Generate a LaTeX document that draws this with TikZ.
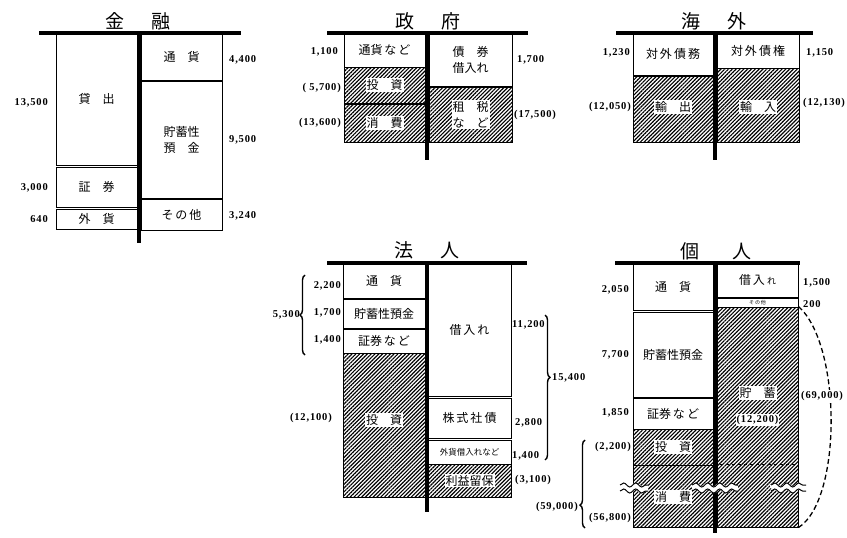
\documentclass[tikz,border=0pt]{standalone}
\usepackage{fontspec}
\newfontfamily\jp{Noto Sans CJK JP}
\newfontfamily\numfont[LetterSpace=8]{Liberation Serif}
\usepackage{tikz}
\usetikzlibrary{
	arrows.meta,
	positioning,
	calc,
	patterns.meta,
	decorations.pathreplacing,
	decorations.pathmorphing
}

\begin{document}
\begin{tikzpicture}[x=1pt,y=-1pt,
	cell/.style={draw,line width=1pt,inner sep=0pt,align=center,
		font=\jp\fontsize{12}{16}\selectfont},
	hatch/.style={cell,pattern={Lines[angle=45,distance=2.7pt,line width=1.15pt]}},
	tag/.style={fill=white,inner sep=1pt,align=center,
		font=\jp\fontsize{12}{16}\selectfont},
	num/.style={inner sep=0pt,font=\numfont\bfseries\fontsize{10.5}{12}\selectfont},
	head/.style={font=\jp\fontsize{19}{22}\selectfont},
	topbar/.style={line width=4pt},
	spine/.style={line width=3.5pt},
	brc/.style={decorate,line width=1.4pt,decoration={brace,amplitude=5pt,#1}},
	brc/.default={aspect=0.5},
	wave/.style={decorate,decoration={snake,segment length=12pt,amplitude=2pt}}
	]
	\useasboundingbox (0,0) rectangle (847,538);

	% --- 金融 ---
	\node[head] (fin-title) at (138,21) {金\hspace{28pt}融};
	\node[cell,minimum width=81pt,minimum height=132pt] (fin-loan) at (96.5,99) {貸　出};
	\node[cell,minimum width=81pt,minimum height=40pt] (fin-sec) at (96.5,187) {証　券};
	\node[cell,minimum width=81pt,minimum height=20pt] (fin-fx) at (96.5,219) {外　貨};
	\node[cell,minimum width=81pt,minimum height=47pt] (fin-cash) at (181.5,56.5) {通　貨};
	\node[cell,minimum width=81pt,minimum height=117pt] (fin-dep) at (181.5,139.5) {貯蓄性\\預　金};
	\node[cell,minimum width=81pt,minimum height=31pt] (fin-etc) at (181.5,214.5) {そ\,の\,他};
	\coordinate (fin-l) at (39,33);
	\coordinate (fin-r) at (241,33);
	\coordinate (fin-t) at (139,33);
	\coordinate (fin-b) at (139,243);
	\draw[spine,line width=4.5pt] (fin-t) -- (fin-b);
	\draw[topbar] (fin-l) -- (fin-r);
	\node[num,anchor=east] (fin-v1) at (48,103) {13,500};
	\node[num,anchor=east] (fin-v2) at (48,188) {3,000};
	\node[num,anchor=east] (fin-v3) at (48,219) {640};
	\node[num,anchor=west] (fin-v4) at (229,60) {4,400};
	\node[num,anchor=west] (fin-v5) at (229,140) {9,500};
	\node[num,anchor=west] (fin-v6) at (229,216) {3,240};

	% --- 政府 ---
	\node[head] (gov-title) at (428,21) {政\hspace{28pt}府};
	\node[cell,minimum width=81pt,minimum height=34pt] (gov-cash) at (384.5,50) {通貨\,な\,ど};
	\node[hatch,minimum width=81pt,minimum height=36pt] (gov-inv) at (384.5,85) {};
	\node[hatch,minimum width=81pt,minimum height=38pt] (gov-cons) at (384.5,123) {};
	\node[cell,minimum width=83pt,minimum height=53pt] (gov-bond) at (470.5,59.5) {債　券\\借入れ};
	\node[hatch,minimum width=83pt,minimum height=55pt] (gov-tax) at (470.5,114.5) {};
	\node[tag] (gov-inv-t) at (gov-inv) {投　資};
	\node[tag] (gov-cons-t) at (gov-cons) {消　費};
	\node[tag] (gov-tax-t) at (gov-tax) {租　税\\な　ど};
	\coordinate (gov-l) at (327,33);
	\coordinate (gov-r) at (528,33);
	\coordinate (gov-t) at (427,33);
	\coordinate (gov-b) at (427,160);
	\draw[spine] (gov-t) -- (gov-b);
	\draw[topbar] (gov-l) -- (gov-r);
	\node[num,anchor=east] (gov-v1) at (338,52) {1,100};
	\node[num,anchor=east] (gov-v2) at (341,88) {( 5,700)};
	\node[num,anchor=east] (gov-v3) at (341,123) {(13,600)};
	\node[num,anchor=west] (gov-v4) at (517,60) {1,700};
	\node[num,anchor=west] (gov-v5) at (514,115) {(17,500)};

	% --- 海外 ---
	\node[head] (ext-title) at (714,21) {海\hspace{28pt}外};
	\node[cell,minimum width=80pt,minimum height=42pt] (ext-debt) at (673,54) {対\,外\,債\,務};
	\node[hatch,minimum width=80pt,minimum height=66pt] (ext-exp) at (673,109) {};
	\node[cell,minimum width=82pt,minimum height=35pt] (ext-claim) at (758,50.5) {対\,外\,債\,権};
	\node[hatch,minimum width=82pt,minimum height=74pt] (ext-imp) at (758,105) {};
	\node[tag] (ext-exp-t) at (673,107) {輸　出};
	\node[tag] (ext-imp-t) at (758,107) {輸　入};
	\coordinate (ext-l) at (616,33);
	\coordinate (ext-r) at (813,33);
	\coordinate (ext-t) at (715,33);
	\coordinate (ext-b) at (715,160);
	\draw[spine] (ext-t) -- (ext-b);
	\draw[topbar] (ext-l) -- (ext-r);
	\node[num,anchor=east] (ext-v1) at (630,53) {1,230};
	\node[num,anchor=east] (ext-v2) at (631,107) {(12,050)};
	\node[num,anchor=west] (ext-v3) at (806,53) {1,150};
	\node[num,anchor=west] (ext-v4) at (803,103) {(12,130)};

	% --- 法人 ---
	\node[head] (corp-title) at (427,250) {法\hspace{28pt}人};
	\node[cell,minimum width=82pt,minimum height=35pt] (corp-cash) at (384,280.5) {通　貨};
	\node[cell,minimum width=82pt,minimum height=29pt] (corp-dep) at (384,313.5) {貯蓄性預金};
	\node[cell,minimum width=82pt,minimum height=24pt] (corp-sec) at (384,341) {証券\,な\,ど};
	\node[hatch,minimum width=82pt,minimum height=144pt] (corp-inv) at (384,425) {};
	\node[cell,minimum width=83pt,minimum height=133pt] (corp-loan) at (469.5,329.5) {借\,入\,れ};
	\node[cell,minimum width=83pt,minimum height=40pt] (corp-bond) at (469.5,418) {株\,式\,社\,債};
	\node[cell,minimum width=83pt,minimum height=24pt] (corp-fx) at (469.5,452)
		{\fontsize{8.5}{10}\selectfont 外貨借入れなど};
	\node[hatch,minimum width=83pt,minimum height=33pt] (corp-ret) at (469.5,480.5) {};
	\node[tag] (corp-inv-t) at (384,420) {投　資};
	\node[tag] (corp-ret-t) at (corp-ret) {利益留保};
	\coordinate (corp-l) at (327,263);
	\coordinate (corp-r) at (527,263);
	\coordinate (corp-t) at (427,263);
	\coordinate (corp-b) at (427,512);
	\draw[spine] (corp-t) -- (corp-b);
	\draw[topbar] (corp-l) -- (corp-r);
	\node[num,anchor=east] (corp-v1) at (341,286) {2,200};
	\node[num,anchor=east] (corp-v2) at (341,313) {1,700};
	\node[num,anchor=east] (corp-v3) at (341,340) {1,400};
	\node[num,anchor=east] (corp-v4) at (300,315) {5,300};
	\node[num,anchor=east] (corp-v5) at (332,418) {(12,100)};
	\node[num,anchor=west] (corp-v6) at (512,325) {11,200};
	\node[num,anchor=west] (corp-v7) at (515,423) {2,800};
	\node[num,anchor=west] (corp-v8) at (512,456) {1,400};
	\node[num,anchor=west] (corp-v9) at (515,480) {(3,100)};
	\node[num,anchor=west] (corp-v10) at (552,378) {15,400};
	\coordinate (corp-ba) at (305,355);
	\coordinate (corp-bb) at (305,275);
	\coordinate (corp-bc) at (545,315);
	\coordinate (corp-bd) at (545,460);
	\draw[brc] (corp-ba) -- (corp-bb);
	\draw[brc={aspect=0.43}] (corp-bc) -- (corp-bd);

	% --- 個人 ---
	\node[head] (hh-title) at (716,251) {個\hspace{33pt}人};
	\node[cell,minimum width=80pt,minimum height=47pt] (hh-cash) at (673,286.5) {通　貨};
	\node[cell,minimum width=80pt,minimum height=85pt] (hh-dep) at (673,354.5) {貯蓄性預金};
	\node[cell,minimum width=80pt,minimum height=31pt] (hh-sec) at (673,413.5) {証券\,な\,ど};
	\node[hatch,minimum width=80pt,minimum height=36pt] (hh-inv) at (673,447) {};
	\node[hatch,minimum width=80pt,minimum height=62pt] (hh-cons) at (673,496) {};
	\node[cell,minimum width=81pt,minimum height=34pt] (hh-loan) at (757.5,280)
		{借\,入\,{\fontsize{9}{10}\selectfont れ}};
	\node[cell,minimum width=81pt,minimum height=9pt] (hh-etc) at (757.5,302.5)
		{\fontsize{5}{6}\selectfont そ\,の\,他};
	\node[hatch,minimum width=81pt,minimum height=220pt] (hh-sav) at (757.5,417) {};
	\node[tag] (hh-inv-t) at (hh-inv) {投　資};
	\node[tag] (hh-cons-t) at (673,497) {消　費};
	\node[tag] (hh-sav-t) at (757.5,393) {貯　蓄};
	\node[tag,font=\numfont\bfseries\fontsize{10.5}{12}\selectfont] (hh-sav-v) at (757.5,420) {(12,200)};
	\draw[dashed,line width=1.2pt] (hh-cons.north east) -- (hh-cons.north east -| hh-sav.east);
	\coordinate (hh-l) at (615,263);
	\coordinate (hh-r) at (800,263);
	\coordinate (hh-t) at (715,263);
	\coordinate (hh-b) at (715,533);
	\draw[spine] (hh-t) -- (hh-b);
	\draw[topbar] (hh-l) -- (hh-r);
	% breaks
	\coordinate (w1a) at (620,488);
	\coordinate (w1b) at (648,488);
	\coordinate (w2a) at (692,488);
	\coordinate (w2b) at (738,488);
	\coordinate (w3a) at (771,488);
	\coordinate (w3b) at (806,488);
	\foreach \a/\b in {w1a/w1b,w2a/w2b,w3a/w3b} {
		\draw[wave,white,line width=6pt] (\a) -- (\b);
		\draw[wave,line width=1pt] ([yshift=3pt]\a) -- ([yshift=3pt]\b);
		\draw[wave,line width=1pt] ([yshift=-3pt]\a) -- ([yshift=-3pt]\b);
	}
	\draw[dashed,dash pattern=on 5pt off 3pt,line width=1.3pt] (hh-sav.north east)
		.. controls (842,345) and (842,500) .. (hh-sav.south east);
	\node[num,anchor=east] (hh-v1) at (629,290) {2,050};
	\node[num,anchor=east] (hh-v2) at (629,355) {7,700};
	\node[num,anchor=east] (hh-v3) at (629,413) {1,850};
	\node[num,anchor=west] (hh-v4) at (803,283) {1,500};
	\node[num,anchor=west] (hh-v5) at (803,304) {200};
	\node[num,anchor=east] (hh-v6) at (631,447) {(2,200)};
	\node[num,anchor=east] (hh-v7) at (631,518) {(56,800)};
	\node[num,anchor=east] (hh-v8) at (578,507) {(59,000)};
	\node[num,anchor=west,fill=white,inner sep=1pt] (hh-v9) at (800,396) {(69,000)};
	\coordinate (hh-ba) at (585,528);
	\coordinate (hh-bb) at (585,440);
	\draw[brc={aspect=0.26}] (hh-ba) -- (hh-bb);

\end{tikzpicture}
\end{document}
